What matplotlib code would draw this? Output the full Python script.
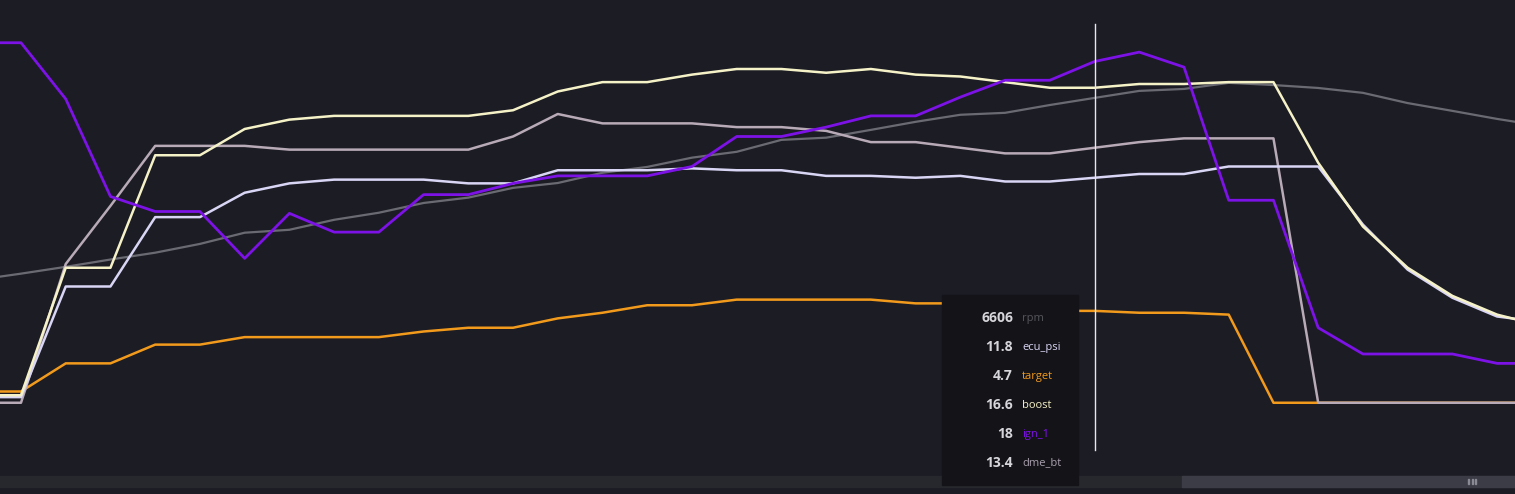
import matplotlib.pyplot as plt
from matplotlib.patches import Rectangle

# sample index (-1 is just left of the visible window)
idx = list(range(-1, 35))

rpm = [2870, 3000, 3140, 3290, 3430, 3610, 3840, 3900, 4105, 4250, 4450, 4560,
       4760, 4860, 5070, 5190, 5380, 5500, 5745, 5790, 5950, 6115, 6260, 6300,
       6460, 6606, 6750, 6790, 6915, 6870, 6810, 6710, 6500, 6340, 6175, 6030]
ecu_psi = [0.1, 0.1, 6.0, 6.0, 9.7, 9.7, 11.0, 11.5, 11.7, 11.7, 11.7, 11.5,
           11.5, 12.2, 12.2, 12.2, 12.3, 12.2, 12.2, 11.9, 11.9, 11.8, 11.9, 11.6,
           11.6, 11.8, 12.0, 12.0, 12.4, 12.4, 12.4, 9.3, 6.9, 5.4, 4.4, 4.1]
target = [0.4, 0.4, 1.9, 1.9, 2.9, 2.9, 3.3, 3.3, 3.3, 3.3, 3.6, 3.8,
          3.8, 4.3, 4.6, 5.0, 5.0, 5.3, 5.3, 5.3, 5.3, 5.1, 5.1, 4.9,
          4.7, 4.7, 4.6, 4.6, 4.5, -0.2, -0.2, -0.2, -0.2, -0.2, -0.2, -0.2]
boost = [0.2, 0.2, 7.0, 7.0, 13.0, 13.0, 14.4, 14.9, 15.1, 15.1, 15.1, 15.1,
         15.4, 16.4, 16.9, 16.9, 17.3, 17.6, 17.6, 17.4, 17.6, 17.3, 17.2, 16.9,
         16.6, 16.6, 16.8, 16.8, 16.9, 16.9, 12.6, 9.2, 7.0, 5.5, 4.5, 3.9]
ign_1 = [19.0, 19.0, 16.0, 10.8, 10.0, 10.0, 7.5, 9.9, 8.9, 8.9, 10.9, 10.9,
         11.5, 11.9, 11.9, 11.9, 12.4, 14.0, 14.0, 14.5, 15.1, 15.1, 16.1, 17.0,
         17.0, 18.0, 18.5, 17.7, 10.6, 10.6, 3.8, 2.4, 2.4, 2.4, 1.9, 1.9]
dme_bt = [-0.2, -0.2, 7.2, 10.3, 13.5, 13.5, 13.5, 13.3, 13.3, 13.3, 13.3, 13.3,
          14.0, 15.2, 14.7, 14.7, 14.7, 14.5, 14.5, 14.3, 13.7, 13.7, 13.4, 13.1,
          13.1, 13.4, 13.7, 13.9, 13.9, 13.9, -0.2, -0.2, -0.2, -0.2, -0.2, -0.2]

cursor = 24
names = ["rpm", "ecu_psi", "target", "boost", "ign_1", "dme_bt"]
tip_values = ["6606", "11.8", "4.7", "16.6", "18", "13.4"]

bg = "#1b1c24"
c_rpm = "#6a6a72"
c_ecu = "#d9d5f5"
c_target = "#f29a1c"
c_boost = "#f6f2c8"
c_ign = "#7d12e6"
c_dme = "#b8aab6"

fig = plt.figure(figsize=(15.15, 4.94), dpi=100, facecolor=bg)
H = 494.0
ax = fig.add_axes([0, 18 / H, 1, 476 / H])
ax.set_facecolor(bg)
ax2 = ax.twinx()

ax.set_xlim(-0.4695, 33.40)
ax.set_ylim(-4.107, 21.28)
ax2.set_ylim(-1152, 8615)

ax2.plot(idx, rpm, color=c_rpm, lw=1.6, zorder=1)
ax2.set_zorder(0)
ax.set_zorder(1)
ax.patch.set_visible(False)
fig.patches.append(Rectangle((0, 0), 1, 1, transform=fig.transFigure,
                             color=bg, zorder=-10))

ax.plot(idx, target, color=c_target, lw=1.8)
ax.plot(idx, dme_bt, color=c_dme, lw=1.8)
ax.plot(idx, ecu_psi, color=c_ecu, lw=1.8)
ax.plot(idx, boost, color=c_boost, lw=1.8)
ax.plot(idx, ign_1, color=c_ign, lw=2.0)

ax.axvline(cursor, ymin=26 / 476, ymax=452 / 476, color="#e8e8ec", lw=1.0)

for a in (ax, ax2):
    a.set_xticks([])
    a.set_yticks([])
    for s in a.spines.values():
        s.set_visible(False)

# scrollbar
fig.patches.append(Rectangle((0, 7 / H), 1, 11 / H, transform=fig.transFigure,
                             color="#27282d", zorder=1))
fig.patches.append(Rectangle((1182 / 1515, 7 / H), 333 / 1515, 11 / H,
                             transform=fig.transFigure, color="#3b3c45", zorder=1))
for gx in (1468, 1471.5, 1475):
    fig.patches.append(Rectangle((gx / 1515, 10 / H), 1 / 1515, 5 / H,
                                 transform=fig.transFigure, color="#8a8a94", zorder=2))

# tooltip
fig.patches.append(Rectangle((942 / 1515, 9 / H), 136 / 1515, 190 / H,
                             transform=fig.transFigure, color="#141418", zorder=2))
label_colors = ["#55555c", c_ecu, c_target, c_boost, c_ign, "#a8a0ad"]
for k in range(len(names)):
    yp = 1 - (318 + 29 * k) / H
    fig.text(1013 / 1515, yp, tip_values[k], ha="right", va="center",
             color="#d6d6da", fontsize=10, fontweight="bold",
             family="Open Sans", zorder=3)
    fig.text(1022 / 1515, yp, names[k], ha="left", va="center",
             color=label_colors[k], fontsize=8, family="Open Sans", zorder=3)

fig.savefig("out.png", dpi=100, facecolor=bg)
